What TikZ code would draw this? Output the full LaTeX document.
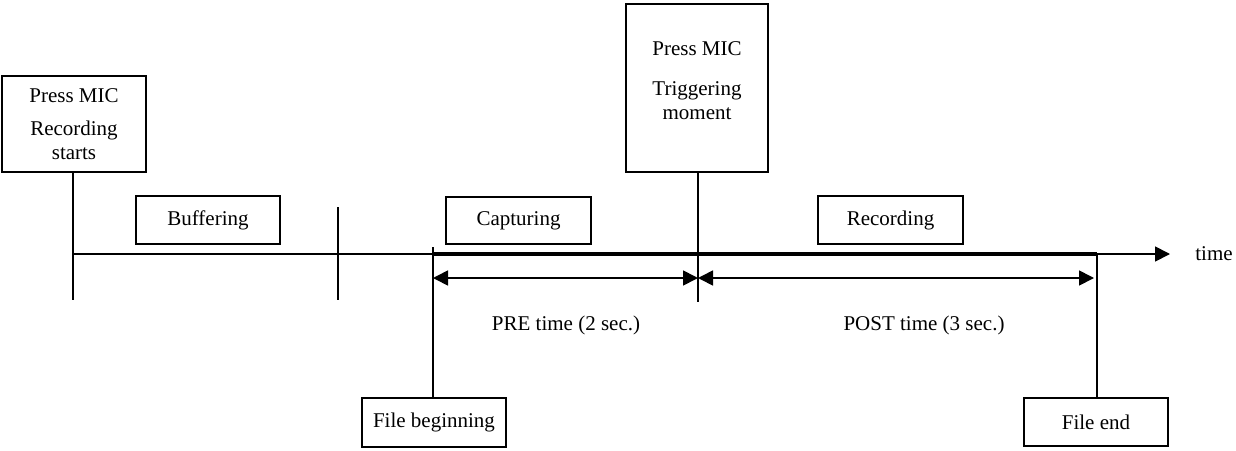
\documentclass[tikz,border=0pt]{standalone}
\usepackage{fontspec}
\setmainfont{Liberation Serif}
\usetikzlibrary{arrows.meta}
\begin{document}
\begin{tikzpicture}[x=1pt,y=-1pt,
  every node/.style={font=\fontsize{21}{24}\selectfont, inner sep=0pt},
  box/.style={draw, line width=1.5pt, align=center},
  thin/.style={line width=1.7pt},
  thick/.style={line width=4pt},
  tip/.style={-{Triangle[length=15pt,width=15pt]}},
  dtip/.style={{Triangle[length=15pt,width=15pt]}-{Triangle[length=15pt,width=15pt]}}]
\useasboundingbox (0,0) rectangle (1236,450);
% boxes
\node[box, minimum width=144pt, minimum height=96pt] (start) at (74,124) {Press MIC\\[9pt]Recording\\starts};
\node[box, minimum width=144pt, minimum height=48pt] (buf) at (208,220) {Buffering};
\node[box, minimum width=145pt, minimum height=47pt] (cap) at (518.5,220.5) {Capturing};
\node[box, minimum width=145pt, minimum height=48pt] (rec) at (890.5,220) {Recording};
\node[box, minimum width=142pt, minimum height=168pt] (trig) at (697,88) {};
\node[align=center] (trigtxt) at (697,80.5) {Press MIC\\[16pt]Triggering\\moment};
\node[box, minimum width=144pt, minimum height=49pt] (fbeg) at (434,422.5) {File beginning};
\node[box, minimum width=144pt, minimum height=48pt] (fend) at (1096,422) {File end};
\node (time) at (1214,254) {time};
\node (pre) at (566,325) {PRE time (2 sec.)};
\node (post) at (924,325) {POST time (3 sec.)};
% coordinates
\coordinate (t0) at (73,254);
\coordinate (tend) at (1170,254);
\coordinate (s1) at (73,300);
\coordinate (b1) at (338,207);
\coordinate (b2) at (338,300);
\coordinate (c1) at (433,247);
\coordinate (c0) at (433,254);
\coordinate (cpre) at (433,278);
\coordinate (m0) at (698,254);
\coordinate (m1) at (698,302);
\coordinate (mpre) at (698,278);
\coordinate (e0) at (1097,254);
\coordinate (epost) at (1094,278);
% timeline
\draw[thin, tip] (t0) -- (tend);
\draw[thick] (c0) -- (e0);
% vertical lines
\draw[thin] (start.south -| t0) -- (s1);
\draw[thin] (b1) -- (b2);
\draw[thin] (c1) -- (fbeg.north -| c1);
\draw[thin] (trig.south -| m0) -- (m1);
\draw[thin] (e0) -- (fend.north -| e0);
% duration arrows
\draw[thin, dtip] (cpre) -- (mpre);
\draw[thin, {Triangle[length=15pt,width=15pt]}-{Triangle[length=15pt,width=15pt]}] (mpre) -- (epost);
\end{tikzpicture}
\end{document}
